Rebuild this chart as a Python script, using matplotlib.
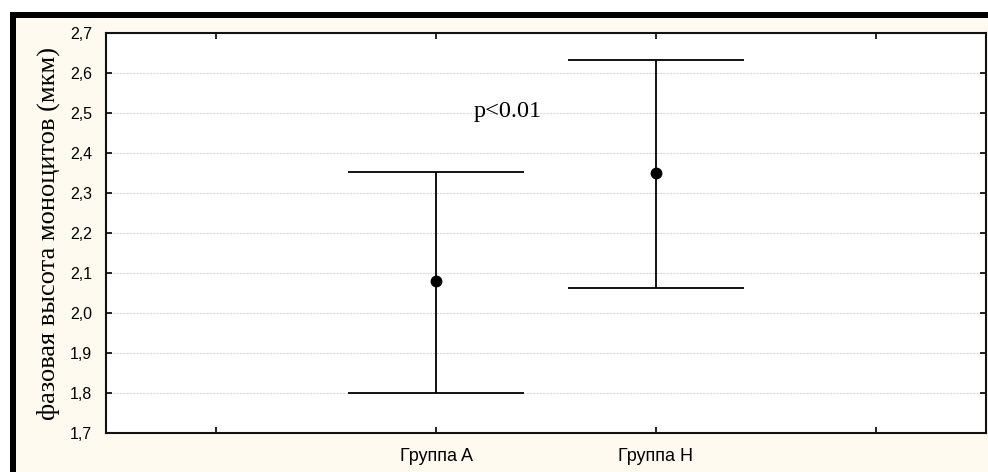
import numpy as np
import matplotlib.pyplot as plt
from matplotlib.patches import Rectangle

groups = ['Группа A', 'Группа H']
means = [2.08, 2.35]
lower = [1.80, 2.063]
upper = [2.353, 2.632]
yticks = [1.7, 1.8, 1.9, 2.0, 2.1, 2.2, 2.3, 2.4, 2.5, 2.6, 2.7]

W, H = 988, 472
fig = plt.figure(figsize=(W / 100, H / 100), dpi=100)
fig.patch.set_facecolor('white')

# cream panel with black frame on top and left (pixel coords -> figure fraction)
fig.patches.append(Rectangle((16 / W, 0), 1 - 16 / W, 1 - 18 / H, transform=fig.transFigure,
                             facecolor='#fffaf0', edgecolor='none', zorder=-5))
fig.patches.append(Rectangle((10 / W, 0), 6 / W, 1 - 12 / H, transform=fig.transFigure,
                             facecolor='black', edgecolor='none', zorder=-5))
fig.patches.append(Rectangle((10 / W, 1 - 18 / H), 1 - 10 / W, 6 / H, transform=fig.transFigure,
                             facecolor='black', edgecolor='none', zorder=-5))

ax = fig.add_axes([106 / W, 39 / H, 880 / W, 400 / H])
ax.set_facecolor('white')

x = np.arange(1, len(groups) + 1)
ax.vlines(x, lower, upper, color='black', lw=1.3, zorder=3)
ax.hlines(lower, x - 0.4, x + 0.4, color='black', lw=1.3, zorder=3)
ax.hlines(upper, x - 0.4, x + 0.4, color='black', lw=1.3, zorder=3)
ax.plot(x, means, 'o', color='black', ms=7.5, zorder=4)

ax.set_xlim(-0.5, 3.5)
ax.set_ylim(1.7, 2.7)
ax.set_xticks([0, 1, 2, 3])
ax.set_xticklabels(['', groups[0], groups[1], ''], family='Liberation Sans', fontsize=13)
ax.set_yticks(yticks)
ax.set_yticklabels([f'{v:.1f}'.replace('.', ',') for v in yticks], family='Liberation Sans', fontsize=11.5)
ax.tick_params(direction='in', length=4, width=1.2, top=True, right=True)
ax.tick_params(axis='y', pad=10)
ax.tick_params(axis='x', pad=11)

ax.yaxis.grid(True, linestyle=(0, (2, 1)), color='#dadada', lw=0.8)
ax.set_axisbelow(True)
for s in ax.spines.values():
    s.set_linewidth(1.5)
    s.set_color('#111111')

ax.set_ylabel('фазовая высота моноцитов (мкм)', family='Liberation Serif', fontsize=19, labelpad=7)
ax.text(1.17, 2.505, 'p<0.01', family='Liberation Serif', fontsize=17.5, va='center')

fig.savefig('out.png', dpi=100, facecolor=fig.get_facecolor())
